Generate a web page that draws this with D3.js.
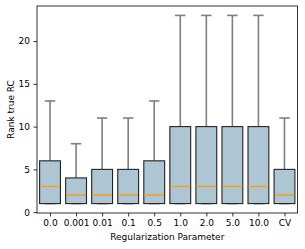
<!DOCTYPE html>
<html><head><meta charset="utf-8">
<script src="https://cdn.jsdelivr.net/npm/d3@7"></script>
<style>body{margin:0;background:#fff}svg{display:block}text{font-family:"DejaVu Sans",sans-serif;fill:#000}</style>
</head><body><svg id="c" width="305" height="249"></svg>
<script>
const categories = ["0.0","0.001","0.01","0.1","0.5","1.0","2.0","5.0","10.0","CV"];
const whiskerLow = [1,1,1,1,1,1,1,1,1,1];
const q1 = [1,1,1,1,1,1,1,1,1,1];
const median = [3,2,2,2,2,3,3,3,3,2];
const q3 = [6,4,5,5,6,10,10,10,10,5];
const whiskerHigh = [13,8,11,11,13,23,23,23,23,11];
const yTicks = [0,5,10,15,20];

const svg = d3.select("#c");
const L=37, R=297.5, T=6, B=213;
const x = d3.scaleLinear().domain([0.5, categories.length+0.5]).range([L,R]);
const y = d3.scaleLinear().domain([-0.1, 24.1]).range([B,T]);
const fs = 9;

const data = categories.map((c,i)=>({c,i:i+1,lo:whiskerLow[i],q1:q1[i],med:median[i],q3:q3[i],hi:whiskerHigh[i]}));
const bw = x(1.4)-x(0.6);
const cw = x(1.2)-x(0.8);
const g = svg.append("g");
// whiskers
g.selectAll(".wh").data(data).join("line")
 .attr("x1",d=>x(d.i)).attr("x2",d=>x(d.i))
 .attr("y1",d=>y(d.q3)).attr("y2",d=>y(d.hi))
 .attr("stroke","#7f7f7f").attr("stroke-width",1.6);
g.selectAll(".cap").data(data).join("line")
 .attr("x1",d=>x(d.i)-cw/2).attr("x2",d=>x(d.i)+cw/2)
 .attr("y1",d=>y(d.hi)).attr("y2",d=>y(d.hi))
 .attr("stroke","#7f7f7f").attr("stroke-width",1.6);
g.selectAll(".capl").data(data).join("line")
 .attr("x1",d=>x(d.i)-cw/2).attr("x2",d=>x(d.i)+cw/2)
 .attr("y1",d=>y(d.lo)).attr("y2",d=>y(d.lo))
 .attr("stroke","#7f7f7f").attr("stroke-width",1.6);
g.selectAll(".box").data(data).join("rect")
 .attr("x",d=>x(d.i)-bw/2).attr("width",bw)
 .attr("y",d=>y(d.q3)).attr("height",d=>y(d.q1)-y(d.q3))
 .attr("fill","#aec6d4").attr("stroke","#222").attr("stroke-width",1.1);
g.selectAll(".med").data(data).join("line")
 .attr("x1",d=>x(d.i)-bw/2+0.6).attr("x2",d=>x(d.i)+bw/2-0.6)
 .attr("y1",d=>y(d.med)).attr("y2",d=>y(d.med))
 .attr("stroke","#f0a224").attr("stroke-width",1.6);

// axes
const xa = svg.append("g").attr("transform",`translate(0,${B})`)
 .call(d3.axisBottom(x).tickValues(data.map(d=>d.i)).tickFormat((d,i)=>categories[i]).tickSize(3.5).tickPadding(3.5).tickSizeOuter(0));
const ya = svg.append("g").attr("transform",`translate(${L},0)`)
 .call(d3.axisLeft(y).tickValues(yTicks).tickSize(3.5).tickPadding(3.5).tickSizeOuter(0));
[xa,ya].forEach(a=>{a.select(".domain").remove();a.selectAll("line").attr("stroke","#000").attr("stroke-width",0.8);
 a.selectAll("text").style("font-size",fs+"px").attr("font-family","DejaVu Sans");});
svg.append("rect").attr("x",L).attr("y",T).attr("width",R-L).attr("height",B-T)
 .attr("fill","none").attr("stroke","#000").attr("stroke-width",0.8);

svg.append("text").attr("x",(L+R)/2).attr("y",240).attr("text-anchor","middle").style("font-size",fs+"px").text("Regularization Parameter");
svg.append("text").attr("transform",`translate(13.5,${(T+B)/2}) rotate(-90)`).attr("text-anchor","middle").style("font-size",fs+"px").text("Rank true RC");
</script></body></html>
